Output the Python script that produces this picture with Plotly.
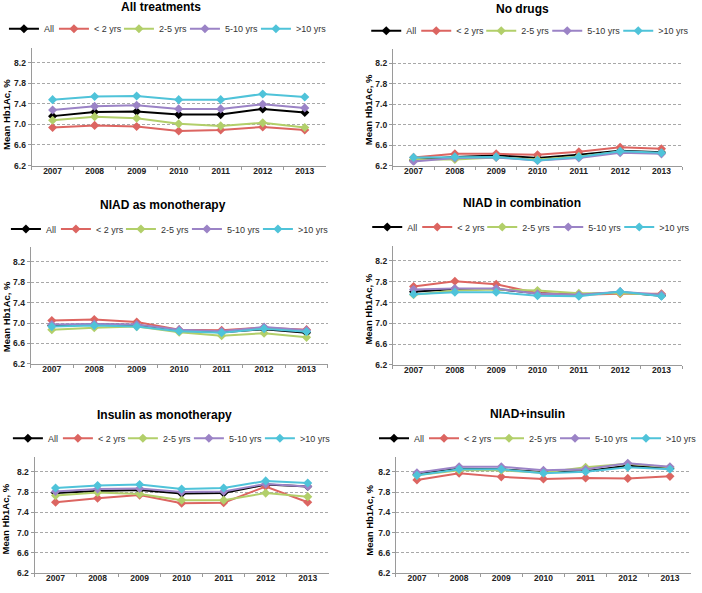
import plotly.graph_objects as go

years = ["2007", "2008", "2009", "2010", "2011", "2012", "2013"]
groups = ["All", "< 2 yrs", "2-5 yrs", "5-10 yrs", ">10 yrs"]
colors = ["#000000", "#DC6561", "#B2CF6A", "#9B83C6", "#4FC3D9"]
y_ticks = [6.2, 6.6, 7.0, 7.4, 7.8, 8.2]

# mean Hb1Ac per panel, one list per group (All, <2, 2-5, 5-10, >10)
all_treatments = [
    [7.16, 7.24, 7.25, 7.19, 7.19, 7.30, 7.23],
    [6.94, 6.98, 6.96, 6.87, 6.89, 6.95, 6.89],
    [7.08, 7.15, 7.12, 7.01, 6.97, 7.03, 6.94],
    [7.28, 7.35, 7.37, 7.30, 7.30, 7.39, 7.32],
    [7.48, 7.54, 7.55, 7.48, 7.48, 7.59, 7.53],
]
no_drugs = [
    [6.31, 6.37, 6.40, 6.35, 6.41, 6.49, 6.46],
    [6.36, 6.43, 6.43, 6.41, 6.47, 6.56, 6.53],
    [6.32, 6.32, 6.36, 6.32, 6.38, 6.47, 6.44],
    [6.28, 6.35, 6.36, 6.30, 6.35, 6.45, 6.43],
    [6.36, 6.37, 6.37, 6.30, 6.37, 6.48, 6.45],
]
niad_mono = [
    [6.95, 6.97, 6.96, 6.85, 6.82, 6.88, 6.81],
    [7.05, 7.07, 7.02, 6.87, 6.86, 6.91, 6.87],
    [6.87, 6.91, 6.93, 6.82, 6.75, 6.80, 6.72],
    [6.97, 6.98, 6.97, 6.87, 6.84, 6.92, 6.86],
    [6.93, 6.95, 6.93, 6.84, 6.81, 6.89, 6.83],
]
niad_combo = [
    [7.61, 7.66, 7.66, 7.58, 7.55, 7.60, 7.53],
    [7.71, 7.81, 7.75, 7.58, 7.55, 7.57, 7.57],
    [7.55, 7.63, 7.65, 7.63, 7.58, 7.58, 7.55],
    [7.65, 7.67, 7.67, 7.57, 7.55, 7.61, 7.55],
    [7.56, 7.60, 7.60, 7.53, 7.52, 7.61, 7.52],
]
insulin_mono = [
    [7.78, 7.82, 7.84, 7.77, 7.78, 7.95, 7.91],
    [7.60, 7.68, 7.74, 7.58, 7.59, 7.91, 7.60],
    [7.73, 7.79, 7.76, 7.64, 7.64, 7.78, 7.71],
    [7.81, 7.86, 7.87, 7.80, 7.81, 7.96, 7.91],
    [7.88, 7.93, 7.95, 7.86, 7.88, 8.02, 7.98],
]
niad_insulin = [
    [8.15, 8.26, 8.25, 8.19, 8.21, 8.32, 8.27],
    [8.04, 8.17, 8.10, 8.06, 8.08, 8.07, 8.11],
    [8.13, 8.23, 8.23, 8.18, 8.29, 8.36, 8.29],
    [8.18, 8.30, 8.30, 8.23, 8.25, 8.37, 8.30],
    [8.13, 8.25, 8.25, 8.17, 8.20, 8.29, 8.25],
]

titles = ["All treatments", "No drugs", "NIAD as monotherapy",
          "NIAD in combination", "Insulin as monotherapy", "NIAD+insulin"]
panels = [all_treatments, no_drugs, niad_mono, niad_combo, insulin_mono, niad_insulin]

W, H = 702, 593
# pixel boxes: (left, right, top, bottom) of plot area
boxes = [(32, 330, 48, 167), (398, 691, 49, 167),
         (31, 332, 249, 367), (398, 691, 248, 368),
         (35, 333, 461, 578), (401, 700, 461, 578)]
title_pos = [(163, 7), (529, 9), (165, 207), (529, 205), (167, 419), (534, 418)]
legend_pos = [(4, 29), (371, 31), (6, 231), (372, 229), (8, 442), (379, 442)]
ytitle_pos = [(6, 115), (373, 111), (6, 319), (373, 312), (6, 523), (374, 525)]
# legend entry widths, a bit tighter than the text so the row stays compact
entry_w = [5, 20, 21, 26, None]

font = "Liberation Sans, Arial, sans-serif"
fig = go.Figure()
annotations = []

for i, (data, title) in enumerate(zip(panels, titles)):
    n = "" if i == 0 else str(i + 1)
    leg = "legend" + n
    for g, vals, c, ew in zip(groups, data, colors, entry_w):
        fig.add_trace(go.Scatter(
            x=years, y=vals, name=g, mode="lines+markers",
            line=dict(color=c, width=2),
            marker=dict(symbol="diamond", size=7, color=c),
            xaxis="x" + n, yaxis="y" + n, legend=leg, legendwidth=ew,
        ))
    l, r, t, b = boxes[i]
    xdom = [l / W, r / W]
    ydom = [1 - b / H, 1 - t / H]
    axis_common = dict(linecolor="#9A9A9A", linewidth=1, showline=True,
                       tickfont=dict(family=font, size=8.5, color="#222", weight="bold"),
                       ticks="outside", ticklen=3, tickcolor="#9A9A9A")
    fig.layout["xaxis" + n] = dict(
        domain=xdom, anchor="y" + n, type="category",
        range=[-0.5, 6.5], tickson="boundaries", showgrid=False,
        ticklabelstandoff=-3, **axis_common)
    fig.layout["yaxis" + n] = dict(
        domain=ydom, anchor="x" + n, range=[6.2, 8.49],
        tickvals=y_ticks, ticktext=[f"{v:.1f}" for v in y_ticks],
        showgrid=True, gridcolor="#A8A8A8", griddash="3px,2px", gridwidth=1,
        zeroline=False, **axis_common)
    lx, ly = legend_pos[i]
    fig.layout[leg] = dict(
        orientation="h", x=lx / W, y=1 - ly / H, xanchor="left", yanchor="middle",
        bgcolor="rgba(0,0,0,0)", font=dict(family=font, size=9, color="#333"),
        itemwidth=30, tracegroupgap=0)
    tx, ty = title_pos[i]
    annotations.append(dict(
        text="<b>" + title + "</b>", x=tx / W, y=1 - ty / H, xref="paper", yref="paper",
        xanchor="center", yanchor="middle", showarrow=False,
        font=dict(family=font, size=12, color="#000")))
    yx, yy = ytitle_pos[i]
    annotations.append(dict(
        text="<b>Mean Hb1Ac, %</b>", x=yx / W, y=1 - yy / H, xref="paper", yref="paper",
        xanchor="center", yanchor="middle", showarrow=False, textangle=-90,
        font=dict(family=font, size=9.5, color="#000")))

fig.update_layout(
    width=W, height=H, margin=dict(l=0, r=0, t=0, b=0),
    paper_bgcolor="white", plot_bgcolor="white",
    annotations=annotations, showlegend=True,
)

# drop the browser's default body margin so the figure sits at the page corner
fig.write_html("out.html", config={"displayModeBar": False},
               post_script="document.body.style.margin='0';")
